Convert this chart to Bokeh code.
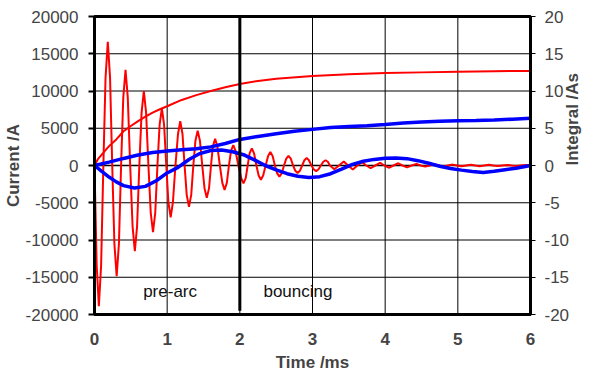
import math
from bokeh.plotting import figure
from bokeh.models import Range1d, LinearAxis, FixedTicker, Span
from bokeh.core.properties import value
from bokeh.embed import file_html
from bokeh.resources import INLINE

FONT = "Liberation Sans"

# ---------------- data ----------------
time_ticks = [0, 1, 2, 3, 4, 5, 6]
time_tick_labels = ["0", "1", "2", "3", "4", "5", "6"]
current_ticks = [-20000, -15000, -10000, -5000, 0, 5000, 10000, 15000, 20000]
current_tick_labels = ["-20000", "-15000", "-10000", "-5000", "0", "5000", "10000", "15000", "20000"]
integral_ticks = [-20, -15, -10, -5, 0, 5, 10, 15, 20]
integral_tick_labels = ["-20", "-15", "-10", "-5", "0", "5", "10", "15", "20"]

# red: oscillating current (ms, A)
red_current_t = [
    0.000,
    0.030, 0.060, 0.091, 0.122,
    0.152, 0.183, 0.214, 0.244,
    0.274, 0.305, 0.336, 0.366,
    0.396, 0.427, 0.458, 0.491,
    0.524, 0.555, 0.586, 0.617,
    0.648, 0.679, 0.710, 0.742,
    0.774, 0.805, 0.836, 0.866,
    0.896, 0.927, 0.958, 0.988,
    1.017, 1.048, 1.079, 1.114,
    1.149, 1.180, 1.211, 1.240,
    1.269, 1.300, 1.331, 1.360,
    1.389, 1.420, 1.451, 1.483,
    1.514, 1.545, 1.576, 1.603,
    1.629, 1.660, 1.691, 1.725,
    1.759, 1.790, 1.821, 1.850,
    1.879, 1.910, 1.941, 1.980,
    2.019, 2.050, 2.081, 2.108,
    2.134, 2.165, 2.196, 2.228,
    2.259, 2.290, 2.321, 2.355,
    2.389, 2.420, 2.451, 2.483,
    2.514, 2.545, 2.576, 2.608,
    2.639, 2.670, 2.701, 2.733,
    2.764, 2.795, 2.826, 2.858,
    2.889, 2.920, 2.951, 2.985,
    3.019, 3.050, 3.081, 3.115,
    3.149, 3.180, 3.211, 3.240,
    3.300, 3.365, 3.430, 3.490, 3.555, 3.618, 3.680, 3.740,
    3.800, 3.865, 3.930, 3.990, 4.050, 4.115, 4.180, 4.240,
    4.300, 4.365, 4.430, 4.490, 4.550, 4.615, 4.680, 4.740,
    4.800, 4.865, 4.930, 4.990, 5.050, 5.115, 5.180, 5.240,
    5.300, 5.365, 5.430, 5.490, 5.550, 5.615, 5.680, 5.740,
    5.800, 5.865, 5.930, 6.000,
]
red_current_a = [
    0,
    -13400, -18900, -13400, 0,
    11800, 16600, 11800, 0,
    -10540, -14850, -10540, 0,
    9120, 12850, 9120, 0,
    -8165, -11500, -8165, 0,
    7100, 10000, 7100, 0,
    -6350, -8950, -6350, 0,
    5440, 7660, 5440, 0,
    -4930, -6950, -4930, 0,
    4225, 5950, 4225, 0,
    -3940, -5550, -3940, 0,
    3320, 4680, 3320, 0,
    -3070, -4320, -3070, 0,
    2560, 3600, 2560, 0,
    -2330, -3280, -2330, 0,
    1950, 2750, 1950, 0,
    -1700, -2400, -1700, 0,
    1630, 2300, 1630, 0,
    -1350, -1900, -1350, 0,
    1280, 1800, 1280, 0,
    -1065, -1500, -1065, 0,
    920, 1300, 920, 0,
    -710, -1000, -710, 0,
    710, 1000, 710, 0,
    -530, -750, -530, 0,
    500, 700, 500, 0,
    -500, 0, 550, 0, -550, 0, 450, 0,
    -350, 0, 350, 0, -300, 0, 300, 0,
    -250, 0, 200, 0, -150, 0, 150, 0,
    -120, 0, 120, 0, -100, 0, 100, 0,
    -90, 0, 90, 0, -80, 0, 80, 0,
    -60, 0, 60, 0,
]

# red: integral (ms, As)
red_integral_t = [0, 0.05, 0.12, 0.2, 0.3, 0.4, 0.5, 0.6, 0.7, 0.8, 0.9, 1.0, 1.2,
                  1.4, 1.6, 1.8, 2.0, 2.25, 2.5, 3.0, 3.5, 4.0, 4.5, 5.0, 5.5, 6.0]
red_integral_as = [0, 0.9, 1.7, 2.6, 3.5, 4.6, 5.3, 5.95, 6.55, 7.1, 7.55, 7.95, 8.8,
                   9.45, 10.0, 10.5, 10.95, 11.35, 11.65, 12.0, 12.25, 12.4, 12.5, 12.6, 12.65, 12.7]

# blue: slow current (ms, A)
blue_current_t = [0, 0.1, 0.2, 0.3, 0.4, 0.55, 0.7, 0.85, 1.0, 1.15, 1.3, 1.45, 1.6, 1.75,
                  1.9, 2.05, 2.2, 2.35, 2.5, 2.65, 2.8, 2.95, 3.1, 3.25, 3.4, 3.55, 3.7, 3.85,
                  4.0, 4.15, 4.3, 4.45, 4.6, 4.75, 4.9, 5.05, 5.2, 5.35, 5.5, 5.65, 5.8, 6.0]
blue_current_a = [0, -800, -1550, -2200, -2700, -3030, -2800, -2050, -1000, -250, 800, 1600, 2020, 2080,
                  1850, 1450, 750, 0, -580, -1100, -1450, -1600, -1500, -1100, -480, 150, 570, 820,
                  980, 1020, 920, 650, 300, -100, -400, -620, -800, -930, -780, -560, -370, 0]

# blue: integral (ms, As)
blue_integral_t = [0, 0.2, 0.4, 0.6, 0.8, 1.0, 1.2, 1.4, 1.6, 1.8, 2.0, 2.25, 2.5, 2.75,
                   3.0, 3.25, 3.5, 3.75, 4.0, 4.25, 4.5, 4.75, 5.0, 5.25, 5.5, 5.75, 6.0]
blue_integral_as = [0, 0.45, 0.95, 1.4, 1.75, 1.95, 2.1, 2.25, 2.5, 2.95, 3.5, 3.9, 4.25, 4.6,
                    4.85, 5.1, 5.25, 5.35, 5.5, 5.7, 5.85, 5.95, 6.02, 6.05, 6.1, 6.22, 6.35]

arc_boundary_t = 2.0
phase_names = ["pre-arc", "bouncing"]

# ---------------- figure ----------------
p = figure(width=594, height=376, x_range=Range1d(0, 6), y_range=Range1d(-20000, 20000),
           output_backend="svg", toolbar_location=None,
           min_border_left=93, min_border_right=64, min_border_top=16, min_border_bottom=62)
p.extra_y_ranges = {"integral": Range1d(-20, 20)}
p.background_fill_color = "white"
p.border_fill_color = "white"
p.outline_line_color = "black"
p.outline_line_width = 3
p.xgrid.visible = False
p.ygrid.visible = False

# grid lines at the tick positions
for t in time_ticks[1:-1]:
    p.add_layout(Span(location=t, dimension="height", line_color="black",
                      line_width=1, level="underlay"))
for c in current_ticks[1:-1]:
    p.add_layout(Span(location=c, dimension="width", line_color="black",
                      line_width=1.5 if c == 0 else 1, level="underlay"))

# bottom axis
xa = p.xaxis[0]
xa.ticker = FixedTicker(ticks=time_ticks)
xa.major_label_overrides = dict(zip(time_ticks, time_tick_labels))
xa.axis_label = "Time /ms"
xa.axis_label_text_font = FONT
xa.axis_label_text_font_size = "17px"
xa.axis_label_text_font_style = "bold"
xa.axis_label_standoff = 5
xa.major_label_text_font = FONT
xa.major_label_text_font_size = "17px"
xa.major_label_text_font_style = "bold"
xa.major_label_standoff = 18
xa.major_tick_out = 0
xa.major_tick_in = 0
xa.minor_tick_out = 0
xa.minor_tick_in = 0
xa.axis_line_width = 3

# left axis
ya = p.yaxis[0]
ya.ticker = FixedTicker(ticks=current_ticks)
ya.major_label_overrides = dict(zip(current_ticks, current_tick_labels))
ya.axis_label = "Current /A"
ya.axis_label_text_font = FONT
ya.axis_label_text_font_size = "17px"
ya.axis_label_text_font_style = "bold"
ya.axis_label_standoff = 0
ya.major_label_text_font = FONT
ya.major_label_text_font_size = "17px"
ya.major_label_standoff = 10
ya.major_tick_out = 6
ya.major_tick_in = 0
ya.major_tick_line_width = 2
ya.minor_tick_out = 0
ya.minor_tick_in = 0
ya.axis_line_width = 3

# right axis
ra = LinearAxis(y_range_name="integral", ticker=FixedTicker(ticks=integral_ticks))
ra.major_label_overrides = dict(zip(integral_ticks, integral_tick_labels))
ra.major_label_text_font = FONT
ra.major_label_text_font_size = "17px"
ra.major_label_standoff = 9
ra.major_tick_out = 5
ra.major_tick_in = 0
ra.major_tick_line_width = 1
ra.minor_tick_out = 0
ra.minor_tick_in = 0
ra.axis_line_width = 3
ra.axis_label = "Integral /As"
ra.axis_label_text_font = FONT
ra.axis_label_text_font_size = "17px"
ra.axis_label_text_font_style = "bold"
ra.axis_label_standoff = 0
if "axis_label_orientation" in ra.properties():
    ra.axis_label_orientation = math.pi / 2
p.add_layout(ra, "right")

# series
p.line(red_current_t, red_current_a, line_color="#FF0000", line_width=2)
p.line(red_integral_t, red_integral_as, line_color="#FF0000", line_width=2, y_range_name="integral")
p.line(blue_current_t, blue_current_a, line_color="#0000FF", line_width=3.5)
p.line(blue_integral_t, blue_integral_as, line_color="#0000FF", line_width=3.5, y_range_name="integral")

# phase boundary and phase names
p.segment(x0=[arc_boundary_t], y0=[-19500], x1=[arc_boundary_t], y1=[20000],
          line_color="black", line_width=3)
p.text(x=[1.04, 2.8], y=[-16900, -16900], text=phase_names, text_font=value(FONT),
       text_font_size="17px", text_align="center", text_baseline="alphabetic", text_color="#111111")

open("out.html", "w").write(file_html(p, INLINE))
